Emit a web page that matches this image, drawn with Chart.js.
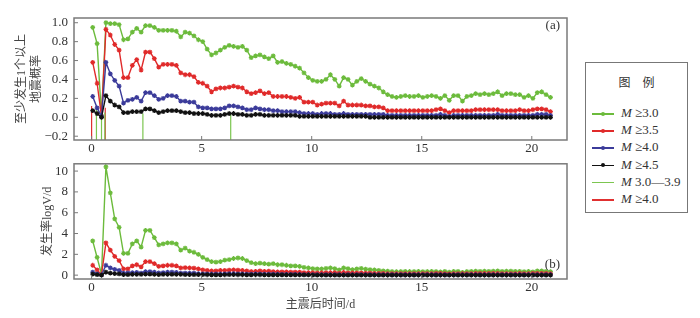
<!DOCTYPE html>
<html>
<head>
<meta charset="utf-8">
<script src="https://cdn.jsdelivr.net/npm/chart.js@4/dist/chart.umd.min.js"></script>
<style>
html,body{margin:0;padding:0;background:#fff;}
#wrap{position:relative;width:700px;height:318px;overflow:hidden;}
#c1{position:absolute;left:0;top:0;}
#c2{position:absolute;left:0;top:150px;}
#legend{position:absolute;left:585px;top:62px;width:103px;height:151px;border:1px solid #777;box-sizing:border-box;
  font-family:"Liberation Serif","Noto Sans CJK SC",serif;font-size:13px;color:#333;}
#legend .ttl{position:absolute;left:0;width:100%;top:10px;text-align:center;font-family:"Noto Sans CJK SC",sans-serif;font-size:12px;}
#legend .row{position:absolute;left:6px;height:16px;line-height:16px;white-space:nowrap;}
#legend .ln{position:absolute;left:0;top:8px;width:22px;height:1.5px;}
#legend .ln i{position:absolute;left:9px;top:-1.5px;width:4px;height:4px;border-radius:2px;background:inherit;}
#legend .tx{position:absolute;left:29px;top:0;}
#legend em{font-style:italic;}
</style>
</head>
<body>
<div id="wrap">
  <canvas id="c1" width="580" height="155"></canvas>
  <canvas id="c2" width="580" height="168"></canvas>
  <div id="legend"></div>
</div>
<script>
// time after mainshock (days)
const days = [0.05,0.25,0.45,0.65,0.85,1.05,1.25,1.45,1.65,1.85,
  2.05,2.25,2.45,2.65,2.85,3.05,3.25,3.45,3.65,3.85,
  4.05,4.25,4.45,4.65,4.85,5.05,5.25,5.45,5.65,5.85,
  6.05,6.25,6.45,6.65,6.85,7.05,7.25,7.45,7.65,7.85,
  8.05,8.25,8.45,8.65,8.85,9.05,9.25,9.45,9.65,9.85,
  10.05,10.25,10.45,10.65,10.85,11.05,11.25,11.45,11.65,11.85,
  12.05,12.25,12.45,12.65,12.85,13.05,13.25,13.45,13.65,13.85,
  14.05,14.25,14.45,14.65,14.85,15.05,15.25,15.45,15.65,15.85,
  16.05,16.25,16.45,16.65,16.85,17.05,17.25,17.45,17.65,17.85,
  18.05,18.25,18.45,18.65,18.85,19.05,19.25,19.45,19.65,19.85,
  20.05,20.25,20.45,20.65,20.85];

// (a) probability of at least one event
const probM30 = [0.95,0.78,0.01,1.00,0.99,0.99,0.98,0.82,0.83,0.90,
  0.94,0.90,0.97,0.97,0.95,0.92,0.92,0.92,0.92,0.91,
  0.85,0.90,0.89,0.86,0.82,0.80,0.72,0.66,0.68,0.71,
  0.74,0.76,0.75,0.74,0.75,0.71,0.63,0.65,0.66,0.64,
  0.62,0.65,0.58,0.59,0.57,0.56,0.54,0.52,0.47,0.42,
  0.39,0.38,0.38,0.40,0.45,0.40,0.33,0.42,0.40,0.34,
  0.38,0.41,0.38,0.35,0.33,0.31,0.27,0.24,0.22,0.21,
  0.22,0.23,0.22,0.22,0.23,0.21,0.22,0.23,0.22,0.20,
  0.23,0.18,0.23,0.23,0.17,0.22,0.23,0.25,0.24,0.25,
  0.24,0.25,0.27,0.23,0.25,0.25,0.24,0.24,0.21,0.23,
  0.20,0.26,0.27,0.24,0.21];
const probM35 = [0.58,0.36,0.01,0.93,0.87,0.77,0.71,0.42,0.42,0.55,
  0.61,0.50,0.69,0.69,0.62,0.53,0.56,0.56,0.56,0.55,
  0.47,0.45,0.45,0.43,0.37,0.36,0.33,0.27,0.30,0.31,
  0.31,0.32,0.33,0.32,0.31,0.27,0.25,0.26,0.28,0.25,
  0.26,0.22,0.22,0.22,0.22,0.21,0.20,0.21,0.16,0.16,
  0.16,0.13,0.14,0.15,0.15,0.15,0.12,0.17,0.13,0.13,
  0.13,0.13,0.12,0.12,0.11,0.11,0.10,0.07,0.07,0.07,
  0.07,0.07,0.07,0.07,0.07,0.07,0.07,0.07,0.08,0.09,
  0.07,0.05,0.07,0.07,0.07,0.07,0.07,0.08,0.08,0.08,
  0.08,0.08,0.08,0.07,0.07,0.07,0.07,0.08,0.07,0.07,
  0.08,0.09,0.09,0.08,0.06];
const probM40 = [0.22,0.10,0.01,0.58,0.46,0.39,0.33,0.15,0.18,0.19,
  0.21,0.17,0.26,0.26,0.23,0.19,0.20,0.23,0.23,0.22,
  0.17,0.17,0.16,0.16,0.11,0.10,0.10,0.09,0.09,0.09,
  0.10,0.12,0.12,0.11,0.10,0.08,0.08,0.10,0.09,0.08,
  0.08,0.07,0.07,0.06,0.06,0.06,0.06,0.05,0.04,0.04,
  0.04,0.03,0.04,0.04,0.04,0.03,0.03,0.04,0.03,0.03,
  0.03,0.03,0.03,0.03,0.03,0.03,0.03,0.02,0.02,0.02,
  0.02,0.02,0.02,0.02,0.02,0.02,0.02,0.02,0.02,0.03,
  0.02,0.01,0.02,0.02,0.02,0.02,0.02,0.02,0.02,0.02,
  0.02,0.02,0.03,0.02,0.02,0.02,0.02,0.02,0.02,0.02,
  0.02,0.03,0.03,0.03,0.02];
const probM45 = [0.07,0.04,0.00,0.23,0.17,0.13,0.11,0.05,0.05,0.06,
  0.06,0.06,0.09,0.09,0.07,0.05,0.06,0.07,0.07,0.07,
  0.06,0.05,0.05,0.04,0.04,0.04,0.03,0.02,0.02,0.02,
  0.03,0.04,0.04,0.03,0.03,0.02,0.02,0.03,0.03,0.02,
  0.02,0.02,0.02,0.02,0.02,0.02,0.02,0.01,0.01,0.01,
  0.01,0.01,0.01,0.01,0.01,0.01,0.01,0.01,0.01,0.01,
  0.01,0.01,0.01,0.00,0.00,0.00,0.00,0.00,0.00,0.00,
  0.00,0.00,0.00,0.00,0.00,0.00,0.00,0.00,0.00,0.00,
  0.00,0.00,0.00,0.00,0.00,0.00,0.00,0.00,0.00,0.00,
  0.00,0.00,0.00,0.00,0.00,0.00,0.00,0.00,0.00,0.00,
  0.00,0.00,0.00,0.00,0.00];

// observed events (stems in panel a)
const evM3039 = [0.22, 0.45, 0.60, 2.33, 6.32];
const evM3039Top = [0.08, 0.05, 0.05, 0.04, 0.04];
const evM40 = [0.0, 0.62];
const evM40Top = [0.12, 0.10];

// (b) occurrence rate
const rateM30 = [3.3,1.7,0.1,10.4,7.9,5.4,4.6,2.1,2.1,3.0,
  3.3,2.7,4.3,4.3,3.6,2.9,3.0,3.1,3.1,3.0,
  2.4,2.6,2.3,2.2,2.0,1.7,1.5,1.3,1.25,1.3,
  1.45,1.5,1.6,1.65,1.6,1.4,1.2,1.1,1.15,1.1,
  1.05,1.1,1.0,1.0,0.95,0.9,0.9,0.85,0.75,0.7,
  0.62,0.6,0.6,0.65,0.7,0.62,0.5,0.7,0.62,0.52,
  0.6,0.65,0.58,0.52,0.5,0.45,0.42,0.38,0.35,0.33,
  0.35,0.36,0.35,0.35,0.36,0.33,0.35,0.36,0.35,0.32,
  0.36,0.28,0.36,0.36,0.27,0.35,0.36,0.38,0.37,0.38,
  0.37,0.38,0.4,0.36,0.38,0.38,0.37,0.37,0.33,0.36,
  0.32,0.4,0.42,0.37,0.33];
const rateM35 = [0.95,0.5,0.05,3.1,2.4,1.8,1.4,0.6,0.6,0.9,
  1.0,0.8,1.3,1.3,1.1,0.85,0.9,0.95,0.95,0.9,
  0.7,0.72,0.7,0.68,0.6,0.5,0.45,0.4,0.42,0.45,
  0.45,0.48,0.5,0.48,0.45,0.4,0.35,0.37,0.4,0.37,
  0.38,0.33,0.32,0.32,0.32,0.3,0.3,0.3,0.25,0.25,
  0.25,0.22,0.23,0.24,0.24,0.24,0.2,0.26,0.21,0.21,
  0.21,0.21,0.2,0.2,0.18,0.18,0.17,0.15,0.15,0.15,
  0.15,0.15,0.15,0.15,0.15,0.15,0.15,0.15,0.16,0.17,
  0.15,0.12,0.15,0.15,0.15,0.15,0.15,0.16,0.16,0.16,
  0.16,0.16,0.16,0.15,0.15,0.15,0.15,0.16,0.15,0.15,
  0.16,0.17,0.17,0.16,0.14];
const rateM40 = [0.3,0.12,0.02,0.95,0.7,0.55,0.45,0.2,0.22,0.24,
  0.26,0.2,0.33,0.33,0.28,0.22,0.24,0.28,0.28,0.27,
  0.2,0.2,0.19,0.19,0.14,0.12,0.12,0.11,0.11,0.11,
  0.12,0.14,0.14,0.13,0.12,0.1,0.1,0.12,0.11,0.1,
  0.1,0.09,0.09,0.08,0.08,0.08,0.08,0.07,0.06,0.06,
  0.05,0.05,0.05,0.05,0.05,0.05,0.05,0.05,0.05,0.05,
  0.05,0.05,0.05,0.05,0.05,0.05,0.05,0.04,0.04,0.04,
  0.04,0.04,0.04,0.04,0.04,0.04,0.04,0.04,0.04,0.04,
  0.04,0.03,0.04,0.04,0.04,0.04,0.04,0.04,0.04,0.04,
  0.04,0.04,0.04,0.04,0.04,0.04,0.04,0.04,0.04,0.04,
  0.04,0.04,0.04,0.04,0.04];
const rateM45 = [0.1,0.05,0.0,0.28,0.2,0.15,0.12,0.06,0.06,0.07,
  0.07,0.07,0.1,0.1,0.08,0.06,0.07,0.08,0.08,0.08,
  0.07,0.06,0.06,0.05,0.05,0.05,0.04,0.03,0.03,0.03,
  0.04,0.05,0.05,0.04,0.04,0.03,0.03,0.04,0.04,0.03,
  0.03,0.03,0.03,0.03,0.03,0.03,0.03,0.02,0.02,0.02,
  0.01,0.01,0.01,0.01,0.01,0.01,0.01,0.01,0.01,0.01,
  0.01,0.01,0.01,0.0,0.0,0.0,0.0,0.0,0.0,0.0,
  0.0,0.0,0.0,0.0,0.0,0.0,0.0,0.0,0.0,0.0,
  0.0,0.0,0.0,0.0,0.0,0.0,0.0,0.0,0.0,0.0,
  0.0,0.0,0.0,0.0,0.0,0.0,0.0,0.0,0.0,0.0,
  0.0,0.0,0.0,0.0,0.0];

const xTicks = [0, 5, 10, 15, 20];
const yTicksA = [-0.2, 0, 0.2, 0.4, 0.6, 0.8, 1.0];
const yTicksB = [0, 2, 4, 6, 8, 10];

const legendItems = [
  {label:'≥3.0', color:'#6cbb3c', dot:true},
  {label:'≥3.5', color:'#e02a2a', dot:true},
  {label:'≥4.0', color:'#3b3b9a', dot:true},
  {label:'≥4.5', color:'#111111', dot:true},
  {label:'3.0—3.9', color:'#7cc650', dot:false},
  {label:'≥4.0', color:'#e03030', dot:false}
];

const GREEN = '#6cbb3c', RED = '#e02a2a', BLUE = '#3b3b9a', BLACK = '#111111';
const FONT = '"Liberation Serif", "Noto Sans CJK SC", serif';

const pts = (ys) => ys.map((v, i) => ({x: days[i], y: v}));
const stems = (xs, tops, base) => {
  const out = [];
  xs.forEach((x, i) => { out.push({x, y: base}, {x, y: tops[i]}, {x, y: null}); });
  return out;
};
const series = (label, ys, color) => ({
  label, data: pts(ys), borderColor: color, backgroundColor: color,
  borderWidth: 1.4, pointStyle: 'star', pointRadius: 2.4, pointBorderWidth: 1.2,
  pointBorderColor: color, tension: 0
});

const framePlugin = {
  id: 'frame',
  afterDatasetsDraw(chart, args, opts) {
    const {ctx, chartArea: a, scales} = chart;
    ctx.save();
    ctx.strokeStyle = '#7a7a7a';
    ctx.lineWidth = 1.5;
    ctx.strokeRect(a.left, a.top, a.right - a.left, a.bottom - a.top);
    ctx.lineWidth = 1;
    scales.x.ticks.forEach(t => {
      const px = scales.x.getPixelForValue(t.value);
      ctx.beginPath(); ctx.moveTo(px, a.bottom); ctx.lineTo(px, a.bottom - 4); ctx.stroke();
    });
    scales.y.ticks.forEach(t => {
      const py = scales.y.getPixelForValue(t.value);
      ctx.beginPath(); ctx.moveTo(a.left, py); ctx.lineTo(a.left + 4, py); ctx.stroke();
    });
    if (opts.tag) {
      ctx.fillStyle = '#333';
      ctx.font = '13px ' + FONT;
      ctx.textAlign = 'right';
      ctx.textBaseline = 'middle';
      ctx.fillText(opts.tag, a.right - 7, a.top + opts.tagY);
    }
    ctx.restore();
  }
};

const xScale = (title) => ({
  type: 'linear', min: -0.8, max: 21.6,
  afterBuildTicks: s => { s.ticks = xTicks.map(v => ({value: v})); },
  afterFit: s => { s.height = title ? 39 : 15; },
  grid: {display: false, drawTicks: false},
  border: {display: false},
  ticks: {color: '#333', padding: 1, font: {family: FONT, size: 13}, maxRotation: 0},
  title: title ? {display: true, text: title, color: '#444', padding: {top: 0, bottom: 6},
    font: {family: FONT, size: 12}} : {display: false}
});

const yScale = (min, max, ticks, fmt, title, padTop) => ({
  type: 'linear', min, max,
  afterBuildTicks: s => { s.ticks = ticks.map(v => ({value: v})); },
  afterFit: s => { s.width = 74; },
  grid: {display: false, drawTicks: false},
  border: {display: false},
  ticks: {color: '#333', padding: 6, font: {family: FONT, size: 13}, callback: fmt},
  title: {display: true, text: title, color: '#444', padding: {top: padTop, bottom: 0},
    font: {family: FONT, size: 12, lineHeight: 1.25}}
});

new Chart(document.getElementById('c1'), {
  type: 'line',
  data: {datasets: [
    series('M≥4.5', probM45, BLACK),
    series('M≥4.0', probM40, BLUE),
    series('M≥3.5', probM35, RED),
    series('M≥3.0', probM30, GREEN),
    {label: 'M3.0—3.9', data: stems(evM3039, evM3039Top, -0.24), borderColor: '#7cc650',
      borderWidth: 1.2, pointRadius: 0, spanGaps: false},
    {label: 'M≥4.0 events', data: stems(evM40, evM40Top, -0.24), borderColor: '#e03030',
      borderWidth: 1.2, pointRadius: 0, spanGaps: false}
  ]},
  options: {
    responsive: false, animation: false,
    layout: {padding: {left: 0, top: 18, right: 13, bottom: 0}},
    plugins: {legend: {display: false}, tooltip: {enabled: false}, frame: {tag: '(a)', tagY: 8}},
    scales: {
      x: xScale(null),
      y: yScale(-0.24, 1.05, yTicksA, v => v.toFixed(1).replace('-', '−'),
        ['至少发生1个以上', '地震概率'], 14)
    }
  },
  plugins: [framePlugin]
});

new Chart(document.getElementById('c2'), {
  type: 'line',
  data: {datasets: [
    series('M≥4.5', rateM45, BLACK),
    series('M≥4.0', rateM40, BLUE),
    series('M≥3.5', rateM35, RED),
    series('M≥3.0', rateM30, GREEN)
  ]},
  options: {
    responsive: false, animation: false,
    layout: {padding: {left: 0, top: 9, right: 13, bottom: 0}},
    plugins: {legend: {display: false}, tooltip: {enabled: false}, frame: {tag: '(b)', tagY: 101}},
    scales: {
      x: xScale('主震后时间/d'),
      y: yScale(-0.37, 10.7, yTicksB, v => String(v), '发生率logV/d', 40)
    }
  },
  plugins: [framePlugin]
});

// legend box
const lg = document.getElementById('legend');
const ttl = document.createElement('div');
ttl.className = 'ttl';
ttl.textContent = '图\u2003例';
lg.appendChild(ttl);
legendItems.forEach((it, i) => {
  const row = document.createElement('div');
  row.className = 'row';
  row.style.top = (42 + i * 17.2) + 'px';
  row.innerHTML = '<span class="ln" style="background:' + it.color + '">' + (it.dot ? '<i></i>' : '') +
    '</span><span class="tx"><em>M</em> ' + it.label + '</span>';
  lg.appendChild(row);
});
</script>
</body>
</html>
